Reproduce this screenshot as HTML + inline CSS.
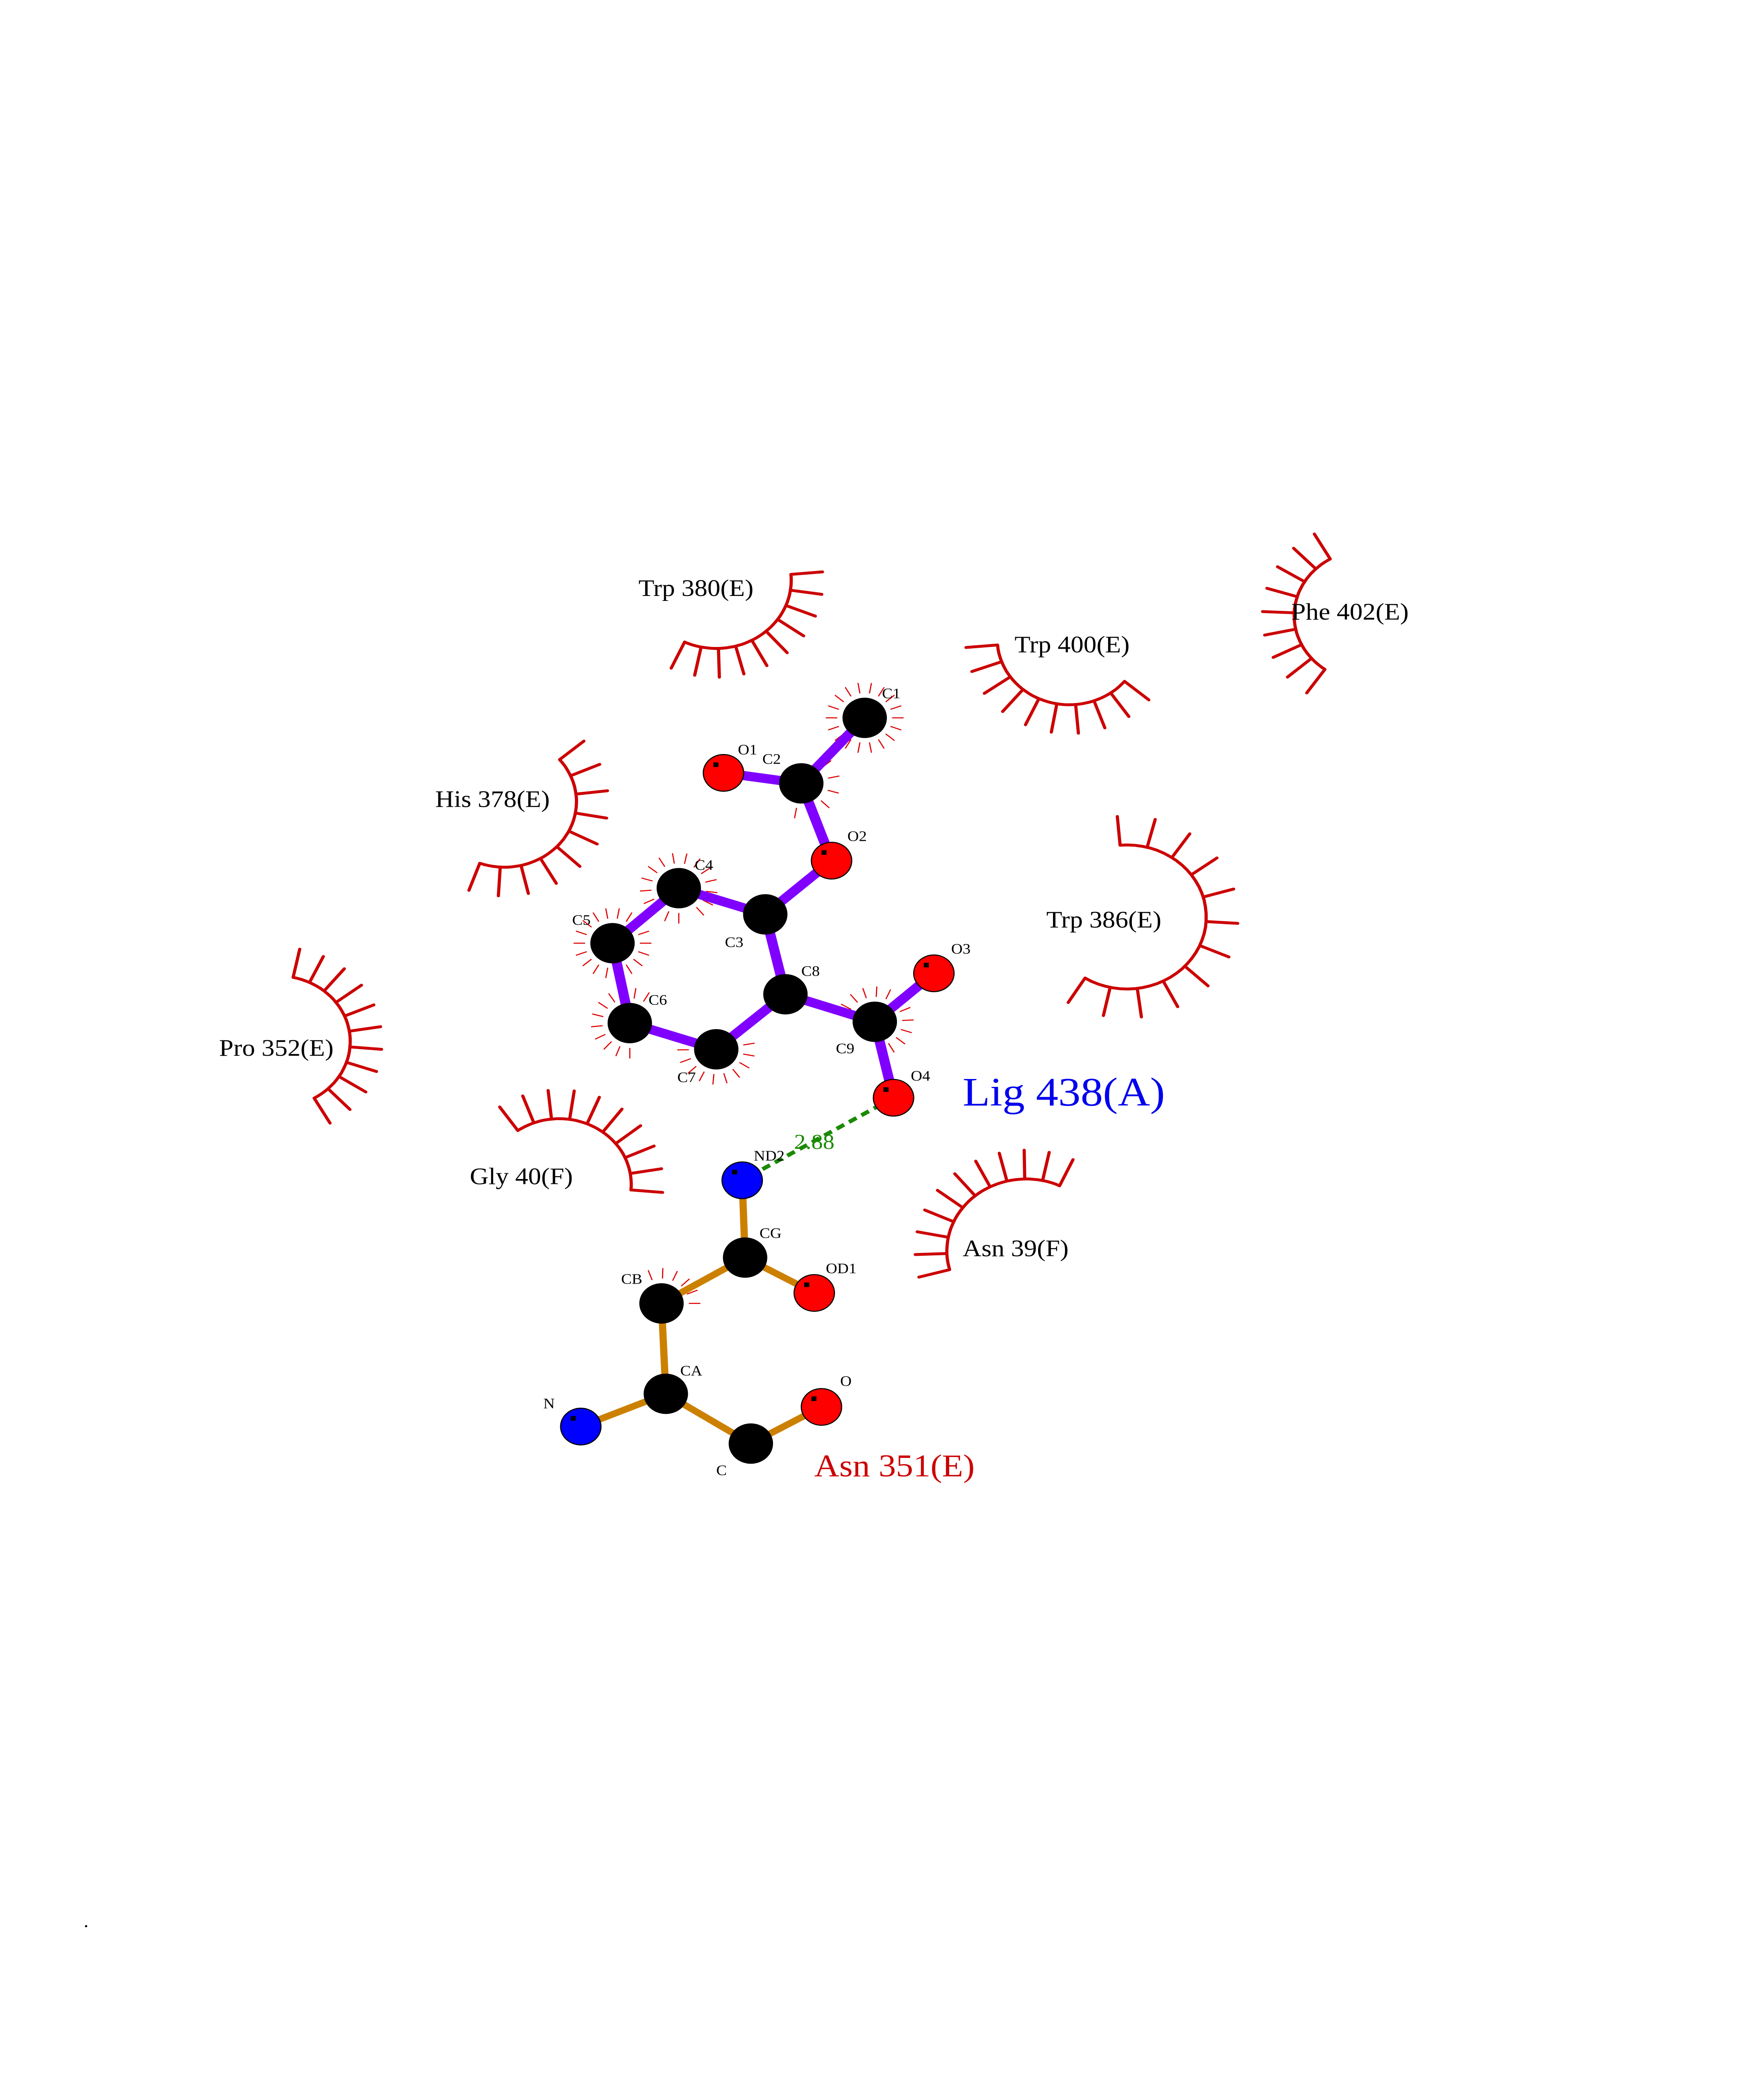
<!DOCTYPE html>
<html><head><meta charset="utf-8"><style>
html,body{margin:0;padding:0;background:#fff;width:100%;height:100%;overflow:hidden}
svg{position:absolute;left:0;top:0;width:100vw;height:100vh;display:block}
text{font-family:"Liberation Serif",serif}
</style></head><body>
<svg id="s" viewBox="0 0 1224 1584" preserveAspectRatio="none" xmlns="http://www.w3.org/2000/svg">
<g id="arcs" stroke="#cc0000" stroke-width="2.2" fill="none" stroke-linecap="round"></g>
<g id="ticks" stroke="#dd0000" stroke-width="0.8"></g>
<g id="bonds" stroke-linecap="butt"></g>
<line x1="620" y1="838" x2="515" y2="901" stroke="#1a8a00" stroke-width="3" stroke-dasharray="6,4"/>
<g id="atoms"></g>
<g font-size="18" fill="#000">
<text x="443" y="455">Trp 380(E)</text>
<text x="704" y="498">Trp 400(E)</text>
<text x="896" y="473">Phe 402(E)</text>
<text x="302" y="616">His 378(E)</text>
<text x="726" y="708">Trp 386(E)</text>
<text x="152" y="806">Pro 352(E)</text>
<text x="326" y="904">Gly 40(F)</text>
<text x="668" y="959">Asn 39(F)</text>
</g>
<text x="668" y="844" font-size="31" fill="#0000ee">Lig 438(A)</text>
<text x="565" y="1127" font-size="24" fill="#cc0000">Asn 351(E)</text>
<text x="551" y="877" font-size="16" fill="#1a8a00">2.88</text>
<g font-size="11" fill="#000">
<text x="612" y="533">C1</text>
<text x="512" y="576">O1</text>
<text x="529" y="583">C2</text>
<text x="588" y="642">O2</text>
<text x="482" y="664">C4</text>
<text x="503" y="723">C3</text>
<text x="397" y="706">C5</text>
<text x="556" y="745">C8</text>
<text x="450" y="767">C6</text>
<text x="660" y="728">O3</text>
<text x="580" y="804">C9</text>
<text x="470" y="826">C7</text>
<text x="632" y="825">O4</text>
<text x="523" y="886">ND2</text>
<text x="527" y="945">CG</text>
<text x="573" y="972">OD1</text>
<text x="431" y="980">CB</text>
<text x="472" y="1050">CA</text>
<text x="377" y="1075">N</text>
<text x="583" y="1058">O</text>
<text x="497" y="1126">C</text>
</g>
<text x="58" y="1471" font-size="14">.</text>
</svg>
<script>
var NS="http://www.w3.org/2000/svg";
function el(p,t,a){var e=document.createElementNS(NS,t);for(var k in a)e.setAttribute(k,a[k]);document.getElementById(p).appendChild(e);return e;}
var R=Math.PI/180;
function hyd(cx,cy,r,a0,a1,n){
 var d="";var steps=40;
 for(var i=0;i<=steps;i++){var a=(a0+(a1-a0)*i/steps)*R;d+=(i?"L":"M")+(cx+r*Math.cos(a)).toFixed(1)+","+(cy+r*Math.sin(a)).toFixed(1);}
 el("arcs","path",{d:d});
 for(var j=0;j<n;j++){var a=(a0+(a1-a0)*j/(n-1))*R;
  el("arcs","line",{x1:cx+r*Math.cos(a),y1:cy+r*Math.sin(a),x2:cx+(r+22)*Math.cos(a),y2:cy+(r+22)*Math.sin(a)});}
}
hyd(497,443,52,-5,115,10);
hyd(350,612,50,-40,110,10);
hyd(193,795,50,-78,60,11);
hyd(388,904,50,-125,5,10);
hyd(712,955,55,165,295,11);
hyd(782,700,55,-95,122,12);
hyd(742,488,50,40,175,10);
hyd(948,470,50,125,240,9);
function ticks(cx,cy,a0,a1,n){for(var j=0;j<n;j++){var a=(a0+(a1-a0)*j/(n-1))*R;
 el("ticks","line",{x1:cx+19*Math.cos(a),y1:cy+19*Math.sin(a),x2:cx+27*Math.cos(a),y2:cy+27*Math.sin(a)});}}
ticks(600,548,0,340,18);ticks(556,598,-40,100,6);ticks(471,678,90,410,16);ticks(425,720,0,340,18);
ticks(437,781,90,300,11);ticks(497,801,-10,200,11);ticks(607,780,-150,60,11);ticks(459,995,-110,0,6);
var A={C1:[600,548,"k"],C2:[556,598,"k"],O1:[502,590,"r"],O2:[577,657,"r"],C3:[531,698,"k"],C4:[471,678,"k"],C5:[425,720,"k"],C6:[437,781,"k"],C7:[497,801,"k"],C8:[545,759,"k"],C9:[607,780,"k"],O3:[648,743,"r"],O4:[620,838,"r"],
ND2:[515,901,"b"],CG:[517,960,"k"],OD1:[565,987,"r"],CB:[459,995,"k"],CA:[462,1064,"k"],N:[403,1089,"b"],C:[521,1102,"k"],O:[570,1074,"r"]};
var LB=[["C1","C2"],["C2","O1"],["C2","O2"],["O2","C3"],["C3","C4"],["C4","C5"],["C5","C6"],["C6","C7"],["C7","C8"],["C8","C3"],["C8","C9"],["C9","O3"],["C9","O4"]];
var PB=[["ND2","CG"],["CG","OD1"],["CG","CB"],["CB","CA"],["CA","N"],["CA","C"],["C","O"]];
LB.forEach(function(b){el("bonds","line",{x1:A[b[0]][0],y1:A[b[0]][1],x2:A[b[1]][0],y2:A[b[1]][1],stroke:"#8000ff","stroke-width":7});});
PB.forEach(function(b){el("bonds","line",{x1:A[b[0]][0],y1:A[b[0]][1],x2:A[b[1]][0],y2:A[b[1]][1],stroke:"#cc8000","stroke-width":5});});
var col={k:"#000",r:"#ff0000",b:"#0000ff"};
for(var k in A){var a=A[k];var rr=(a[2]=="k")?15:14;
 el("atoms","circle",{cx:a[0],cy:a[1],r:rr,fill:col[a[2]],stroke:"#000","stroke-width":0.8});
 if(a[2]!="k")el("atoms","rect",{x:a[0]-7,y:a[1]-8,width:3.5,height:3.5,fill:"#000"});
}
</script>
</body></html>
